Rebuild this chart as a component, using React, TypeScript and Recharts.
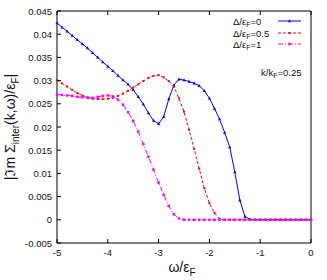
import { Line, LineChart, XAxis, YAxis } from "recharts";

// omega / eps_F sample points
const OMEGA = [
  -5.0, -4.9, -4.8, -4.7, -4.6, -4.5, -4.4, -4.3, -4.2, -4.1,
  -4.0, -3.9, -3.8, -3.7, -3.6, -3.5, -3.4, -3.3, -3.2, -3.1,
  -3.0, -2.9, -2.8, -2.7, -2.6, -2.5, -2.4, -2.3, -2.2, -2.1,
  -2.0, -1.9, -1.8, -1.7, -1.6, -1.5, -1.4, -1.3, -1.2, -1.1,
  -1.0, -0.9, -0.8, -0.7, -0.6, -0.5, -0.4, -0.3, -0.2, -0.1, 0.0,
];

// Delta/eps_F = 0
const GAP_0 = [
  0.0424, 0.0415, 0.0406, 0.0397, 0.0388, 0.0379, 0.0370, 0.0360, 0.0350, 0.0340,
  0.0331, 0.0321, 0.0311, 0.0301, 0.0292, 0.0280, 0.0265, 0.0249, 0.0230, 0.0214,
  0.0207, 0.0222, 0.0260, 0.0290, 0.0303, 0.0301, 0.0298, 0.0294, 0.0289, 0.0278,
  0.0262, 0.0240, 0.0217, 0.0188, 0.0157, 0.0103, 0.0042, 0.0007, 0.0001, 0.0,
  0, 0, 0, 0, 0, 0, 0, 0, 0, 0, 0,
];

// Delta/eps_F = 0.5
const GAP_05 = [
  0.0301, 0.0294, 0.0287, 0.0280, 0.0273, 0.0268, 0.0264, 0.0261, 0.0260, 0.0260,
  0.0261, 0.0263, 0.0267, 0.0272, 0.0278, 0.0285, 0.0292, 0.0299, 0.0306, 0.0310,
  0.0312, 0.0307, 0.0299, 0.0287, 0.0262, 0.0233, 0.0194, 0.0153, 0.0110, 0.0068,
  0.0036, 0.0015, 0.0002, 0.0, 0, 0, 0, 0, 0, 0,
  0, 0, 0, 0, 0, 0, 0, 0, 0, 0, 0,
];

// Delta/eps_F = 1
const GAP_1 = [
  0.0270, 0.0269, 0.0268, 0.0267, 0.0265, 0.0264, 0.0263, 0.0263, 0.0265, 0.0267,
  0.0268, 0.0266, 0.0259, 0.0248, 0.0232, 0.0213, 0.0190, 0.0163, 0.0136, 0.0108,
  0.0080, 0.0054, 0.0030, 0.0012, 0.0003, 0.0, 0, 0, 0, 0,
  0, 0, 0, 0, 0, 0, 0, 0, 0, 0,
  0, 0, 0, 0, 0, 0, 0, 0, 0, 0, 0,
];

const X_TICKS = [-5, -4, -3, -2, -1, 0];
const Y_TICKS = [
  -0.005, 0, 0.005, 0.01, 0.015, 0.02, 0.025, 0.03, 0.035, 0.04, 0.045,
];

const data = OMEGA.map((w, i) => ({
  w,
  g0: GAP_0[i],
  g05: GAP_05[i],
  g1: GAP_1[i],
}));

const FONT = "'Liberation Sans', Arial, sans-serif";
const TEXT = "#111";
const TICK = 4;

function fmt(v: number) {
  return String(Number(v.toFixed(3)));
}

function BottomTick({ x, y, payload }: any) {
  return (
    <g>
      <line x1={x} y1={y} x2={x} y2={y - TICK} stroke="#000" />
      <text x={x} y={y + 13} textAnchor="middle" fontSize={9.5} fill={TEXT} fontFamily={FONT}>
        {fmt(payload.value)}
      </text>
    </g>
  );
}

function TopTick({ x, y }: any) {
  return <line x1={x} y1={y} x2={x} y2={y + TICK} stroke="#000" />;
}

function LeftTick({ x, y, payload }: any) {
  return (
    <g>
      <line x1={x} y1={y} x2={x + TICK} y2={y} stroke="#000" />
      <text x={x - 5} y={y + 3.5} textAnchor="end" fontSize={9.5} fill={TEXT} fontFamily={FONT}>
        {fmt(payload.value)}
      </text>
    </g>
  );
}

function RightTick({ x, y }: any) {
  return <line x1={x} y1={y} x2={x - TICK} y2={y} stroke="#000" />;
}

function triangleDot(color: string) {
  return (p: any) => (
    <path
      key={p.key ?? `t${p.index}`}
      d={`M${p.cx},${p.cy - 1.8}L${p.cx + 1.6},${p.cy + 1.2}L${p.cx - 1.6},${p.cy + 1.2}Z`}
      fill={color}
    />
  );
}

function squareDot(color: string, s: number) {
  return (p: any) => (
    <rect
      key={p.key ?? `s${p.index}`}
      x={p.cx - s / 2}
      y={p.cy - s / 2}
      width={s}
      height={s}
      fill={color}
    />
  );
}

function LegendRow({ y, label, color, dash, marker }: any) {
  return (
    <g>
      <text x={233} y={y + 3.5} fontSize={9.5} fill={TEXT} fontFamily={FONT}>
        Δ/ε
        <tspan fontSize={7} dy={2.5}>F</tspan>
        <tspan dy={-2.5}>={label}</tspan>
      </text>
      <line x1={278} y1={y} x2={301} y2={y} stroke={color} strokeDasharray={dash} />
      {marker}
    </g>
  );
}

export default function App() {
  return (
    <div style={{ position: "absolute", left: 0, top: 0, width: 327, height: 280, background: "#fff" }}>
      <LineChart
        width={327}
        height={280}
        data={data}
        margin={{ top: 10, right: 15, bottom: 36, left: 56 }}
      >
        <XAxis
          dataKey="w"
          type="number"
          domain={[-5, 0]}
          ticks={X_TICKS}
          interval={0}
          height={1}
          tickSize={0}
          tickMargin={0}
          axisLine={{ stroke: "#000" }}
          tick={<BottomTick />}
        />
        <XAxis
          xAxisId="top"
          orientation="top"
          dataKey="w"
          type="number"
          domain={[-5, 0]}
          ticks={X_TICKS}
          interval={0}
          height={1}
          tickSize={0}
          tickMargin={0}
          axisLine={{ stroke: "#000" }}
          tick={<TopTick />}
        />
        <YAxis
          type="number"
          domain={[-0.005, 0.045]}
          ticks={Y_TICKS}
          interval={0}
          width={1}
          tickSize={0}
          tickMargin={0}
          axisLine={{ stroke: "#000" }}
          tick={<LeftTick />}
        />
        <YAxis
          yAxisId="right"
          orientation="right"
          type="number"
          domain={[-0.005, 0.045]}
          ticks={Y_TICKS}
          interval={0}
          width={1}
          tickSize={0}
          tickMargin={0}
          axisLine={{ stroke: "#000" }}
          tick={<RightTick />}
        />
        <Line
          dataKey="g0"
          stroke="#0000ff"
          strokeWidth={1}
          dot={triangleDot("#0000ff")}
          isAnimationActive={false}
        />
        <Line
          dataKey="g05"
          stroke="#ff0000"
          strokeWidth={1}
          strokeDasharray="3 2"
          dot={squareDot("#ff0000", 2)}
          isAnimationActive={false}
        />
        <Line
          dataKey="g1"
          stroke="#ff00ff"
          strokeWidth={1}
          strokeDasharray="5 2 1 2"
          dot={squareDot("#ff00ff", 2.5)}
          isAnimationActive={false}
        />
      </LineChart>
      <svg
        width={327}
        height={280}
        style={{ position: "absolute", left: 0, top: 0, pointerEvents: "none" }}
      >
        <LegendRow
          y={21}
          label="0"
          color="#0000ff"
          marker={<path d="M289.5,19.2L291.1,22.2L287.9,22.2Z" fill="#0000ff" />}
        />
        <LegendRow
          y={33}
          label="0.5"
          color="#ff0000"
          dash="3 2"
          marker={<rect x={288.5} y={32} width={2} height={2} fill="#ff0000" />}
        />
        <LegendRow
          y={44}
          label="1"
          color="#ff00ff"
          dash="5 2 1 2"
          marker={<rect x={288.2} y={42.7} width={2.5} height={2.5} fill="#ff00ff" />}
        />
        <text x={261} y={75.5} fontSize={9.5} fill={TEXT} fontFamily={FONT}>
          k/k
          <tspan fontSize={7} dy={2.5}>F</tspan>
          <tspan dy={-2.5}>=0.25</tspan>
        </text>
        <text x={182} y={272} textAnchor="middle" fontSize={14} fill={TEXT} fontFamily={FONT}>
          ω/ε
          <tspan fontSize={10} dy={4}>F</tspan>
        </text>
        <text
          transform="translate(15,127) rotate(-90)"
          textAnchor="middle"
          fontSize={14}
          fill={TEXT}
          fontFamily={FONT}
        >
          |ℑm Σ
          <tspan fontSize={10} dy={4}>inter</tspan>
          <tspan dy={-4}>(k,ω)/ε</tspan>
          <tspan fontSize={10} dy={4}>F</tspan>
          <tspan dy={-4}>|</tspan>
        </text>
      </svg>
    </div>
  );
}
